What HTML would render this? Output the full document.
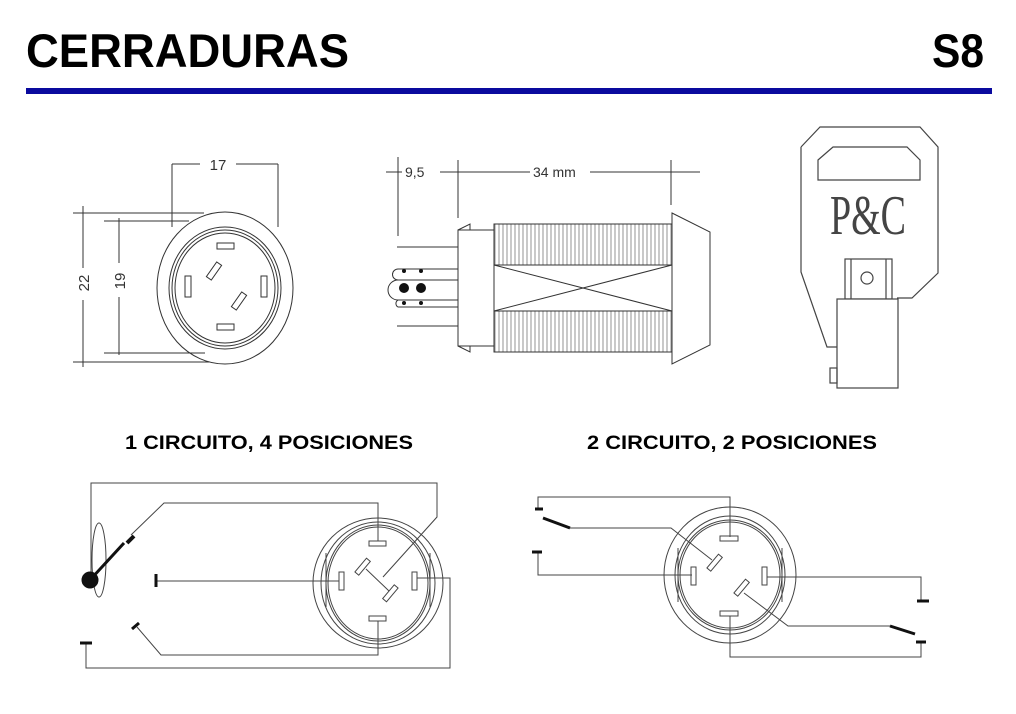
<!DOCTYPE html>
<html><head><meta charset="utf-8"><style>
html,body{margin:0;padding:0;background:#fff;width:1016px;height:714px;overflow:hidden}
svg{display:block}
</style></head><body>
<svg width="1016" height="714" viewBox="0 0 1016 714" xmlns="http://www.w3.org/2000/svg" font-family="Liberation Sans, sans-serif">
<defs>
<pattern id="thr" x="494" y="0" width="4" height="10" patternUnits="userSpaceOnUse">
<line x1="1" y1="0" x2="1" y2="10" stroke="#777" stroke-width="0.8"/>
</pattern>
</defs>
<!-- header -->
<text x="26" y="67" font-size="47" font-weight="bold" textLength="323" lengthAdjust="spacingAndGlyphs">CERRADURAS</text>
<text x="932" y="67" font-size="47" font-weight="bold" textLength="52" lengthAdjust="spacingAndGlyphs">S8</text>
<rect x="26" y="88" width="966" height="6" fill="#0a0a9e"/>

<g fill="none" stroke="#333" stroke-width="1">
<!-- front view -->
<ellipse cx="225" cy="288" rx="68" ry="76"/>
<ellipse cx="225" cy="288" rx="56" ry="61"/>
<ellipse cx="225" cy="288" rx="53" ry="58"/>
<ellipse cx="225" cy="288" rx="50" ry="55"/>
<rect x="217" y="243" width="17" height="6"/>
<rect x="217" y="324" width="17" height="6"/>
<rect x="185" y="276" width="6" height="21"/>
<rect x="261" y="276" width="6" height="21"/>
<rect x="205" y="268" width="18" height="6" transform="rotate(-55 214 271)"/>
<rect x="230" y="298" width="18" height="6" transform="rotate(-55 239 301)"/>
<!-- dims -->
<path d="M172 164V227M278 164V227M172 164H200M236 164H278"/>
<path d="M83 206V268M83 300V367M73 213H204M73 362H210"/>
<path d="M119 218V263M119 297V355M104 221H189M104 353H205"/>
</g>
<text x="218" y="170" font-size="15" text-anchor="middle" fill="#333">17</text>
<text transform="translate(89 283) rotate(-90)" font-size="15" text-anchor="middle" fill="#333">22</text>
<text transform="translate(125 281) rotate(-90)" font-size="15" text-anchor="middle" fill="#333">19</text>

<!-- side view -->
<g fill="none" stroke="#333" stroke-width="1">
<path d="M386 172H402M440 172H530M590 172H700"/>
<path d="M398 157V236M458 160V218M671 160V205"/>
<rect x="494" y="224" width="178" height="128" fill="url(#thr)"/>
<rect x="494" y="265" width="178" height="46" fill="#fff"/>
<path d="M494 265L672 311M494 311L672 265"/>
<path d="M672 213L710 232V345L672 364Z" fill="#fff"/>
<rect x="458" y="230" width="36" height="116"/>
<path d="M458 230L470 224V230M458 346L470 352V346"/>
<path d="M397 247H458M397 326H458"/>
<path d="M398 269H458M398 280H458M398 300H458M398 307H458"/>
<path d="M398 269A5 5 0 0 0 398 280M398 280A8 8 0 0 0 398 300M398 300A4 4 0 0 0 398 307"/>
</g>
<g fill="#111">
<circle cx="404" cy="271" r="2"/><circle cx="421" cy="271" r="2"/>
<circle cx="404" cy="288" r="5"/><circle cx="421" cy="288" r="5"/>
<circle cx="404" cy="303" r="2"/><circle cx="421" cy="303" r="2"/>
</g>
<text x="405" y="177" font-size="14" fill="#333">9,5</text>
<text x="533" y="177" font-size="14" fill="#333">34 mm</text>

<!-- key -->
<g fill="none" stroke="#444" stroke-width="1.2">
<path d="M801 147L820 127H920L938 147V273L912 298H897M801 147V272L827 347H837"/>
<path d="M818 160L833 147H907L920 160V180H818Z"/>
<rect x="845" y="259" width="47" height="40"/>
<path d="M851 259V299M886 259V299"/>
<circle cx="867" cy="278" r="6"/>
<rect x="837" y="299" width="61" height="89" fill="#fff"/>
<rect x="830" y="368" width="7" height="15"/>
</g>
<text x="830" y="234" font-size="56" font-family="Liberation Serif, serif" fill="#444" textLength="76" lengthAdjust="spacingAndGlyphs">P&amp;C</text>

<!-- subtitles -->
<text x="125" y="449" font-size="19" font-weight="bold" textLength="288" lengthAdjust="spacingAndGlyphs">1 CIRCUITO, 4 POSICIONES</text>
<text x="587" y="449" font-size="19" font-weight="bold" textLength="290" lengthAdjust="spacingAndGlyphs">2 CIRCUITO, 2 POSICIONES</text>

<!-- diagram 1 -->
<g fill="none" stroke="#444" stroke-width="1">
<ellipse cx="378" cy="583" rx="65" ry="65"/>
<ellipse cx="378" cy="583" rx="57" ry="61"/>
<ellipse cx="378" cy="583" rx="52" ry="58"/>
<ellipse cx="378" cy="583" rx="50" ry="56"/>
<path d="M326 553V607M430 553V607"/>
<rect x="369" y="541" width="17" height="5" fill="#fff"/>
<rect x="369" y="616" width="17" height="5" fill="#fff"/>
<rect x="339" y="572" width="5" height="18" fill="#fff"/>
<rect x="412" y="572" width="5" height="18" fill="#fff"/>
<rect x="354" y="564" width="18" height="5" transform="rotate(-50 363 567)" fill="#fff"/>
<rect x="381" y="591" width="18" height="5" transform="rotate(-50 390 593)" fill="#fff"/>
<path d="M366 569L389 591"/>
<path d="M91 575V483H437V517L383 577"/>
<ellipse cx="99" cy="560" rx="7" ry="37"/>
<path d="M131 535L164 503H378V541"/>
<path d="M156 581H339"/>
<path d="M417 578H450V668H86V643"/>
<path d="M137 627L161 655H378V621"/>
</g>
<g stroke="#111" fill="#111">
<circle cx="90" cy="580" r="8"/>
<path d="M90 580L124 543" stroke-width="3"/>
<path d="M127 543L134 536" stroke-width="4"/>
<path d="M156 574V587" stroke-width="3"/>
<path d="M132 629L139 623" stroke-width="3"/>
<path d="M80 643H92" stroke-width="3"/>
</g>

<!-- diagram 2 -->
<g fill="none" stroke="#444" stroke-width="1">
<ellipse cx="730" cy="575" rx="66" ry="68"/>
<ellipse cx="730" cy="575" rx="55" ry="59"/>
<ellipse cx="730" cy="575" rx="52" ry="55"/>
<ellipse cx="730" cy="575" rx="50" ry="53"/>
<path d="M678 548V602M782 548V602"/>
<rect x="720" y="536" width="18" height="5" fill="#fff"/>
<rect x="720" y="611" width="18" height="5" fill="#fff"/>
<rect x="691" y="567" width="5" height="18" fill="#fff"/>
<rect x="762" y="567" width="5" height="18" fill="#fff"/>
<rect x="706" y="560" width="18" height="5" transform="rotate(-50 715 563)" fill="#fff"/>
<rect x="733" y="585" width="18" height="5" transform="rotate(-50 742 588)" fill="#fff"/>
<path d="M538 509V497H730V537"/>
<path d="M570 528H671L712 560"/>
<path d="M538 552V575H692"/>
<path d="M767 577H921V600"/>
<path d="M744 593L788 626H890"/>
<path d="M921 642V657H730V616"/>
</g>
<g stroke="#111" stroke-width="3">
<path d="M535 509H543"/>
<path d="M543 518L570 528"/>
<path d="M532 552H542"/>
<path d="M917 601H929"/>
<path d="M890 626L915 634"/>
<path d="M916 642H926"/>
</g>
</svg>
</body></html>
